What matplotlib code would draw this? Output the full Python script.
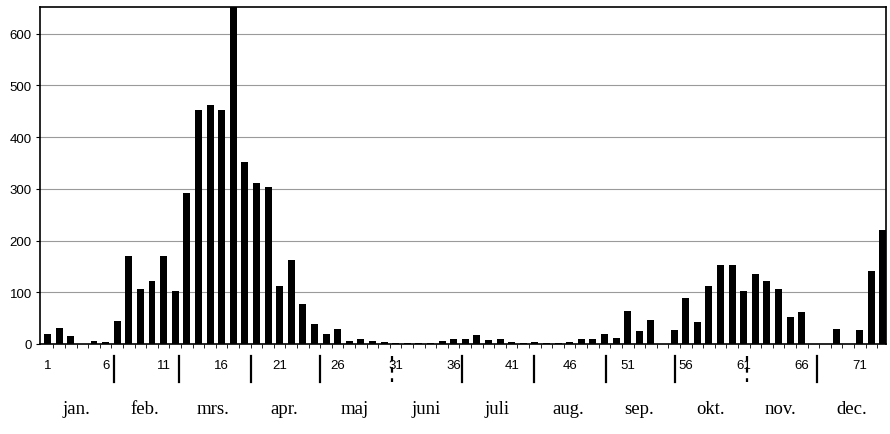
import matplotlib
matplotlib.use("Agg")
import matplotlib.pyplot as plt
import matplotlib.transforms as mtransforms
import numpy as np

# 5-dages perioder, 73 i alt
perioder = list(range(1, 74))
antal = [20, 30, 15, 0, 6, 4, 45, 171, 106, 121,
         171, 102, 292, 452, 462, 452, 660, 352, 312, 303,
         113, 163, 77, 38, 19, 29, 5, 9, 5, 4,
         2, 1, 1, 1, 5, 9, 10, 17, 8, 9,
         4, 2, 3, 1, 1, 4, 10, 9, 19, 11,
         63, 25, 47, 0, 27, 88, 42, 112, 152, 152,
         102, 136, 122, 107, 52, 61, 0, 0, 28, 0,
         27, 142, 221]
tick_labels = [str(p) for p in range(1, 74, 5)]
maaneder = ["jan.", "feb.", "mrs.", "apr.", "maj", "juni", "juli", "aug.",
            "sep.", "okt.", "nov.", "dec."]
dage_i_maaned = [31, 28, 31, 30, 31, 30, 31, 31, 30, 31, 30, 31]
stiplede = ["juni", "nov."]

fig = plt.figure(figsize=(8.9, 4.35), dpi=100)
ax = fig.add_axes([0.045, 0.207, 0.951, 0.775])

ax.bar(perioder, antal, width=0.6, color="black", zorder=3)

ax.set_xlim(0.35, 73.3)
ax.set_ylim(0, 652)
ax.set_yticks(range(0, 700, 100))
ax.yaxis.grid(True, color="#9a9a9a", linewidth=0.8, zorder=0)

ax.set_xticks(range(1, 74, 5))
ax.set_xticklabels(tick_labels, fontsize=9.5, family="Liberation Sans")
ax.set_xticks(np.arange(1.5, 73, 1), minor=True)
ax.tick_params(axis="x", which="major", length=0, pad=11)
ax.tick_params(axis="x", which="minor", length=3, width=0.6, direction="out")
ax.tick_params(axis="y", length=3, width=0.8, labelsize=9.5, pad=3)
for lab in ax.get_yticklabels():
    lab.set_family("Liberation Sans")

for side in ["left", "right", "top", "bottom"]:
    ax.spines[side].set_color("black")
    ax.spines[side].set_linewidth(1.2)

# maanedsgraenser og navne under aksen
trans = mtransforms.blended_transform_factory(ax.transData, ax.transAxes)
start = 1
for navn, n in zip(maaneder, dage_i_maaned):
    midt = start + (n - 1) / 2
    ax.text(0.5 + (midt - 1) / 5, -0.19, navn, transform=trans,
            ha="center", va="center", fontsize=13.5, family="Liberation Serif")
    if start > 1:
        x = 0.5 + (start - 1) / 5
        ls = (0, (2.5, 2.5)) if navn in stiplede else "-"
        ax.plot([x, x], [-0.036, -0.113], transform=trans, color="black",
                linewidth=1.6, linestyle=ls, clip_on=False)
    start += n

fig.savefig("out.png", dpi=100)
